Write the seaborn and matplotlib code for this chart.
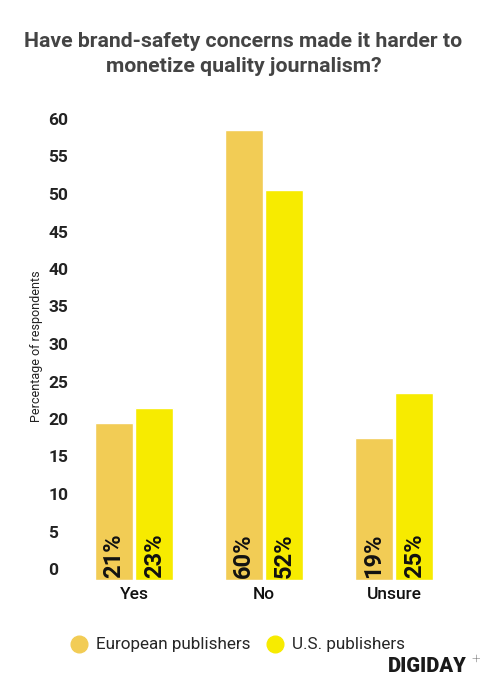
import pandas as pd
import numpy as np
import matplotlib
matplotlib.use("Agg")
import matplotlib.pyplot as plt
import matplotlib.transforms as mtransforms
from matplotlib.lines import Line2D
import seaborn as sns

# chart data
answers = ["Yes", "No", "Unsure"]
european = [21, 60, 19]
us = [23, 52, 25]
series_names = ["European publishers", "U.S. publishers"]
yticks = list(range(0, 61, 5))

df = pd.DataFrame({
    "answer": answers * 2,
    "pct": european + us,
    "group": [series_names[0]] * 3 + [series_names[1]] * 3,
})

sns.set_theme(style="white")
plt.rcParams["font.family"] = ["Roboto", "DejaVu Sans"]

palette = {series_names[0]: "#F2CC55", series_names[1]: "#F7EB00"}

fig = plt.figure(figsize=(4.87, 6.79), dpi=100)
ax = fig.add_axes([69 / 487, 99 / 679, 390 / 487, 450 / 679])

sns.barplot(data=df, x="answer", y="pct", hue="group", order=answers,
            hue_order=series_names, palette=palette, width=0.62, gap=0.05,
            saturation=1, legend=False, ax=ax)

ax.set_xlim(-0.5, 2.5)
ax.set_ylim(0, 60)
sns.despine(ax=ax, left=True, bottom=True)

# bar value labels, rotated inside the bottom of each bar
for cont, vals in zip(ax.containers, [european, us]):
    for rect, v in zip(cont, vals):
        ax.text(rect.get_x() + rect.get_width() / 2, 0.3, f"{v}%",
                rotation=90, ha="center", va="bottom", fontsize=17,
                fontweight="bold", color="#111111")

# y ticks: left aligned, nudged up
ax.set_yticks(yticks)
ax.set_yticklabels([str(t) for t in yticks])
ax.tick_params(axis="y", length=0, pad=15, labelsize=12.5)
off = mtransforms.ScaledTranslation(0, 11 / 100, fig.dpi_scale_trans)
for lbl in ax.get_yticklabels():
    lbl.set_ha("left")
    lbl.set_fontweight("semibold")
    lbl.set_color("#222222")
    lbl.set_transform(lbl.get_transform() + off)

ax.tick_params(axis="x", length=0, pad=5, labelsize=12.5)
for lbl in ax.get_xticklabels():
    lbl.set_fontweight("medium")
    lbl.set_color("#111111")
ax.set_xlabel("")
ax.set_ylabel("Percentage of respondents", fontsize=9, color="#222222")
ax.yaxis.set_label_coords(-26 / 390, 0.52)

fig.text(0.5, 1 - 54 / 679, "Have brand-safety concerns made it harder to\nmonetize quality journalism?",
         ha="center", va="center", fontsize=15.3, fontweight="bold",
         color="#444444", linespacing=1.35)

handles = [Line2D([], [], marker="o", linestyle="", markersize=12,
                  markerfacecolor=palette[n], markeredgecolor=palette[n])
           for n in series_names]
fig.legend(handles, series_names, loc="center", bbox_to_anchor=(237 / 487, 1 - 645 / 679),
           ncol=2, frameon=False, fontsize=12.3, handletextpad=0.4, columnspacing=0.8,
           handlelength=1.2)

fig.text(467 / 487, 1 - 667 / 679, "DIGIDAY", ha="right", va="center",
         fontsize=14.5, fontweight="heavy", color="#1a1a1a")
fig.text(476 / 487, 1 - 659 / 679, "+", ha="center", va="center",
         fontsize=11, fontweight="light", color="#444444")

fig.savefig("out.png", dpi=100)
